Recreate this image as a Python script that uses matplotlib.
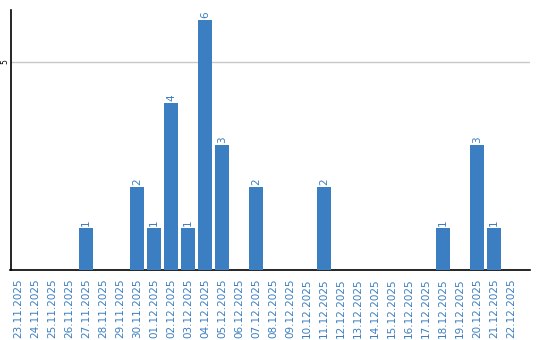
import matplotlib
matplotlib.use("Agg")
import matplotlib.pyplot as plt

dates = ["23.11.2025", "24.11.2025", "25.11.2025", "26.11.2025", "27.11.2025",
         "28.11.2025", "29.11.2025", "30.11.2025", "01.12.2025", "02.12.2025",
         "03.12.2025", "04.12.2025", "05.12.2025", "06.12.2025", "07.12.2025",
         "08.12.2025", "09.12.2025", "10.12.2025", "11.12.2025", "12.12.2025",
         "13.12.2025", "14.12.2025", "15.12.2025", "16.12.2025", "17.12.2025",
         "18.12.2025", "19.12.2025", "20.12.2025", "21.12.2025", "22.12.2025"]
values = [0, 0, 0, 0, 1, 0, 0, 2, 1, 4, 1, 6, 3, 0, 2,
          0, 0, 0, 2, 0, 0, 0, 0, 0, 0, 1, 0, 3, 1, 0]
y_ticks = [5]

blue = "#3b7ec1"
fig = plt.figure(figsize=(5.4, 3.4), dpi=100)
ax = fig.add_axes([10.5 / 540, 70 / 340, 519.5 / 540, 260 / 340])
x = list(range(len(dates)))
ax.bar(x, values, width=0.8, color=blue, zorder=3)
for xi, v in zip(x, values):
    if v > 0:
        ax.text(xi, v + 0.05, str(v), rotation=90, ha="center", va="bottom",
                color=blue, fontsize=7.5, zorder=4)
ax.set_xlim(-0.45, 30.1)
ax.set_ylim(0, 6.24)
ax.set_xticks(x)
ax.set_xticklabels(dates, rotation=90, color=blue, fontsize=7.5)
ax.set_yticks(y_ticks)
ax.set_yticklabels([str(t) for t in y_ticks], rotation=90, fontsize=5.5, va="center")
ax.tick_params(axis="both", length=0)
ax.tick_params(axis="x", pad=6)
ax.tick_params(axis="y", pad=1)
ax.yaxis.grid(True, color="#c8c8c8", linewidth=1, zorder=0)
for s in ["top", "right"]:
    ax.spines[s].set_visible(False)
for s in ["left", "bottom"]:
    ax.spines[s].set_color("black")
    ax.spines[s].set_linewidth(1.2)
fig.savefig("out.png", dpi=100)
